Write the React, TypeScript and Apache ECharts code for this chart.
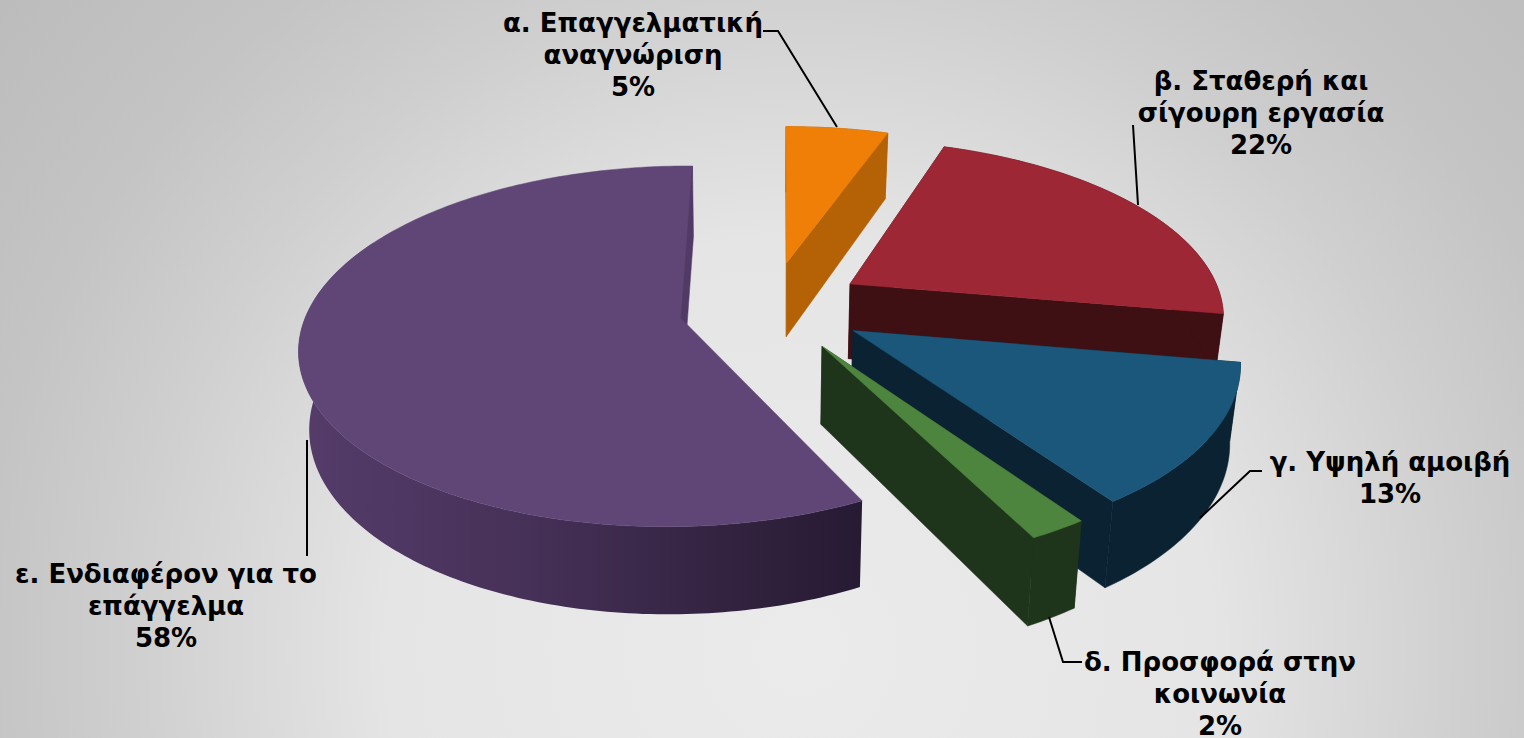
import React, { useEffect, useRef } from "react";
import * as echarts from "echarts";

const categories = [
  "α. Επαγγελματική\nαναγνώριση",
  "β. Σταθερή και\nσίγουρη εργασία",
  "γ. Υψηλή αμοιβή",
  "δ. Προσφορά στην\nκοινωνία",
  "ε. Ενδιαφέρον για το\nεπάγγελμα",
];
const values = [5, 22, 13, 2, 58];
const topColors = ["#ef7f07", "#9e2735", "#1a577a", "#4d853f", "#5f4676"];
const wallColors = ["#b46205", "#3e0f13", "#0a2232", "#1e351b", "#2a1c38"];

// Projection of the 3D disc onto the page
const CX = 773, CY = 313, AX = 379, BY = 178, PERSP = 0.128, DEPTH = 76, SHRINK = 0.977, EXPLODE = 0.235;
// Per-slice fit of the projected wedge: rim radius, rim and apex nudges, angle nudges
const rimRadius = [1, 0.99, 1, 1, 0.982];
const rimNudge = [[1, 3], [3, 1], [0, 1], [0, 1], [-8, 0]];
const apexNudge = [[0, -10], [3, -7], [2, -4], [0, -3], [0, 0]];
const angleNudge = [[0, 0], [0, 0], [1, 0], [0.4, 1], [1.3, 0.8]];
const backWallFrom = 300; // the big slice's rim wall is hidden behind its top past this angle

const labelCenters = [
  [633, 55], [1261, 113], [1390, 478], [1220, 694], [166, 606],
];
const leaders = [
  [[763, 31], [778, 31], [837, 127]],
  [[1133, 125], [1138, 205]],
  [[1200, 518], [1250, 471], [1262, 471]],
  [[1049, 617], [1063, 662], [1082, 662]],
  [[307, 440], [307, 556]],
];

const total = values.reduce((a, b) => a + b, 0);
const rad = (d: number) => (d * Math.PI) / 180;

function project(u: number, v: number, nudge: number[], bottom = false) {
  const s = 1 / (1 - PERSP * v);
  let x = CX + AX * u * s;
  let y = CY + BY * v * s;
  if (bottom) {
    x = CX + (x - CX) * SHRINK;
    y = y + DEPTH * s;
  }
  return [x + nudge[0], y + nudge[1]];
}

function renderItem(params: any) {
  const i = params.dataIndex;
  let base = 0;
  for (let k = 0; k < i; k++) base += (values[k] / total) * 360;
  const span = (values[i] / total) * 360;
  const mid = base + span / 2;
  const start = base + angleNudge[i][0];
  const end = base + span + angleNudge[i][1];
  const ou = EXPLODE * Math.sin(rad(mid));
  const ov = -EXPLODE * Math.cos(rad(mid));
  const R = rimRadius[i];
  const rim = (deg: number, bottom = false) =>
    project(ou + R * Math.sin(rad(deg)), ov - R * Math.cos(rad(deg)), rimNudge[i], bottom);

  const topRim: number[][] = [];
  const wallTop: number[][] = [];
  const botRim: number[][] = [];
  const n = Math.ceil(end - start);
  const reflex = span > 180;
  for (let k = 0; k <= n; k++) {
    const d = start + ((end - start) * k) / n;
    topRim.push(rim(d));
    if (!reflex || d <= backWallFrom) {
      wallTop.push(rim(d));
      botRim.push(rim(d, true));
    }
  }
  const apex = project(ou, ov, apexNudge[i]);
  const apexB = project(ou, ov, apexNudge[i], true);
  const wall = wallColors[i];
  const rimFill = reflex
    ? new echarts.graphic.LinearGradient(0, 0, 1, 0, [
        { offset: 0, color: "#553c6a" },
        { offset: 0.4, color: "#463158" },
        { offset: 0.75, color: "#332341" },
        { offset: 1, color: "#271a33" },
      ])
    : wall;
  const poly = (points: number[][], fill: any) => ({
    type: "polygon",
    shape: { points },
    style: { fill, stroke: typeof fill === "string" ? fill : "none", lineWidth: typeof fill === "string" ? 0.5 : 0 },
  });
  const children: any[] = [];
  if (!reflex) {
    children.push(
      poly([apex, topRim[0], botRim[0], apexB], wall),
      poly([apex, topRim[n], botRim[n], apexB], wall)
    );
  }
  children.push(
    poly([...wallTop, ...botRim.slice().reverse()], rimFill),
    poly([apex, ...topRim], topColors[i])
  );
  if (reflex) {
    const r = topRim[n];
    children.push(
      poly([r, [r[0] + 1, r[1] + 70], [apex[0] + 1, apex[1] + 1], [apex[0] - 5, apex[1] - 5]], "#523a66")
    );
  }
  children.push({
    type: "polyline",
    shape: { points: leaders[i] },
    style: { stroke: "#000000", lineWidth: 2, fill: "none" },
  });
  children.push({
    type: "text",
    style: {
      text: `${categories[i]}\n${Math.round((values[i] / total) * 100)}%`,
      x: labelCenters[i][0],
      y: labelCenters[i][1],
      align: "center",
      verticalAlign: "middle",
      lineHeight: 32,
      fontFamily: "DejaVu Sans",
      fontWeight: "bold",
      fontSize: 26,
      fill: "#000000",
    },
  });
  return { type: "group", children };
}

export default function App() {
  const ref = useRef<HTMLDivElement>(null);
  useEffect(() => {
    document.body.style.margin = "0";
    const chart = echarts.init(ref.current!, undefined, { renderer: "svg" });
    chart.setOption({
      animation: false,
      backgroundColor: new echarts.graphic.RadialGradient(800, 650, 1030, [
        { offset: 0, color: "#ebebeb" },
        { offset: 0.4, color: "#e5e5e5" },
        { offset: 0.65, color: "#cfcfcf" },
        { offset: 0.8, color: "#c4c4c4" },
        { offset: 1, color: "#bcbcbc" },
      ], true),
      series: [
        {
          type: "custom",
          coordinateSystem: "none",
          renderItem,
          data: categories.map((name, i) => ({ name, value: values[i] })),
        },
      ],
    });
    return () => chart.dispose();
  }, []);
  return <div ref={ref} style={{ width: 1524, height: 738 }} />;
}
